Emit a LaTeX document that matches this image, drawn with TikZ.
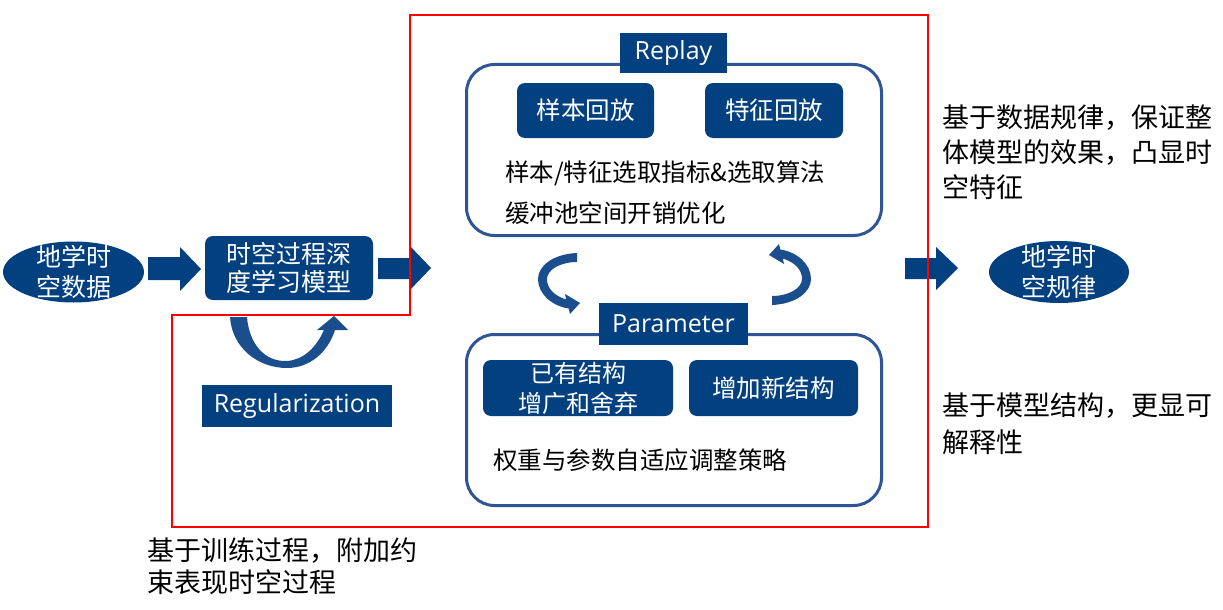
\documentclass[tikz,border=0pt]{standalone}
\usepackage{fontspec}
\setmainfont{Noto Sans CJK SC}
\newfontfamily\latfont{Open Sans}
\usetikzlibrary{shapes.geometric}
\definecolor{dblue}{HTML}{03407F}
\definecolor{lblue}{HTML}{2F5597}
\definecolor{cblue}{HTML}{1A4E8C}
\tikzset{
  darkbox/.style={fill=dblue, text=white, inner sep=0pt, rounded corners=8pt, align=center, font=\fontsize{24.5}{30}\selectfont},
  labelbox/.style={fill=dblue, text=white, inner sep=0pt, font=\latfont\fontsize{25}{30}\selectfont},
  oval/.style={ellipse, fill=dblue, inner sep=0pt},
  ovaltext/.style={text=white, inner sep=0pt, align=center, font=\fontsize{25}{30}\selectfont},
  panel/.style={draw=lblue, line width=3pt, rounded corners=28pt, fill=white},
  note/.style={anchor=west, align=left, inner sep=0pt},
  blockarrow/.style={fill=dblue},
  curlarrow/.style={fill=cblue},
  frame/.style={draw=red, line width=1.2pt}
}
\begin{document}
\begin{tikzpicture}[x=1pt,y=-1pt]
\useasboundingbox (0,0) rectangle (1223,610);

% left ellipse
\node[oval, minimum width=141pt, minimum height=61pt] (data) at (73.5,272) {};
\node[ovaltext] (datatxt) at (data.center) {地学时\\空数据};

% model box
\node[darkbox, minimum width=168pt, minimum height=64pt, font=\fontsize{25}{28}\selectfont] (model) at (289,268) {时空过程深\\度学习模型};

% right ellipse
\node[oval, minimum width=140pt, minimum height=62pt] (law) at (1059,272) {};
\node[ovaltext] (lawtxt) at (law.center) {地学时\\空规律};

% Replay panel
\draw[panel] (466.5,64.5) rectangle (881.5,235.5);
\node[labelbox, minimum width=107pt, minimum height=40pt] (replay) at (673.5,53) {Replay};
\node[darkbox, minimum width=137pt, minimum height=55pt] (sample) at (585.5,110.5) {样本回放};
\node[darkbox, minimum width=138pt, minimum height=55pt] (feature) at (774,110.5) {特征回放};
\node[note, font=\fontsize{24.5}{41}\selectfont] (replaytxt) at (505,192.5) {样本/特征选取指标\&选取算法\\缓冲池空间开销优化};

% Parameter panel
\draw[panel] (466.5,334.5) rectangle (881.5,505.5);
\node[labelbox, minimum width=149pt, minimum height=42pt] (param) at (673.5,324) {Parameter};
\node[darkbox, minimum width=190pt, minimum height=56pt, font=\fontsize{24}{30}\selectfont] (exist) at (578,388) {已有结构\\增广和舍弃};
\node[darkbox, minimum width=169pt, minimum height=56pt] (newstruct) at (773.5,388) {增加新结构};
\node[note, font=\fontsize{24.5}{30}\selectfont] (paramtxt) at (493,460) {权重与参数自适应调整策略};

% Regularization
\node[labelbox, minimum width=190pt, minimum height=42pt] (reg) at (297,406) {Regularization};

% notes
\node[note, font=\fontsize{27}{35}\selectfont] (note1) at (942,152) {基于数据规律，保证整\\体模型的效果，凸显时\\空特征};
\node[note, font=\fontsize{27}{37}\selectfont] (note2) at (942,423.5) {基于模型结构，更显可\\解释性};
\node[note, font=\fontsize{27}{32}\selectfont] (note3) at (147,566) {基于训练过程，附加约\\束表现时空过程};

% block arrows
\fill[blockarrow] (148,257) -- (180,257) -- (180,247) -- (201,269) -- (180,291) -- (180,280) -- (148,280) -- cycle;
\fill[blockarrow] (378,258) -- (410,258) -- (410,246) -- (431,268) -- (410,290) -- (410,279) -- (378,279) -- cycle;
\fill[blockarrow] (905,258) -- (936,258) -- (936,247) -- (958,268) -- (936,290) -- (936,279) -- (905,279) -- cycle;

% curved up arrow under the model box
\fill[curlarrow] (230,317) .. controls (232,348) and (258,368) .. (287,368)
  .. controls (310,368) and (328,352) .. (335,330) -- (348,330) -- (334,316) -- (317,330) -- (324,330)
  .. controls (316,348) and (303,360) .. (287,361)
  .. controls (264,362) and (249,343) .. (247,317) -- cycle;

% circular arrows between panels
\foreach \r in {0,180}{
  \begin{scope}[rotate around={\r:(674.5,279)}]
    \fill[curlarrow] (577,253) .. controls (553,254) and (538,266) .. (538,279)
      .. controls (538,294) and (552,306) .. (568.7,308.5) -- (570,314) -- (580,303) -- (565,294) -- (566.2,299.5)
      .. controls (555,296) and (547,289) .. (547,279)
      .. controls (547,270) and (560,262) .. (577,262) -- cycle;
  \end{scope}
}

% red frame
\draw[frame] (410,15) -- (928,15) -- (928,527) -- (172,527) -- (172,315) -- (410,315) -- cycle;
\end{tikzpicture}
\end{document}
